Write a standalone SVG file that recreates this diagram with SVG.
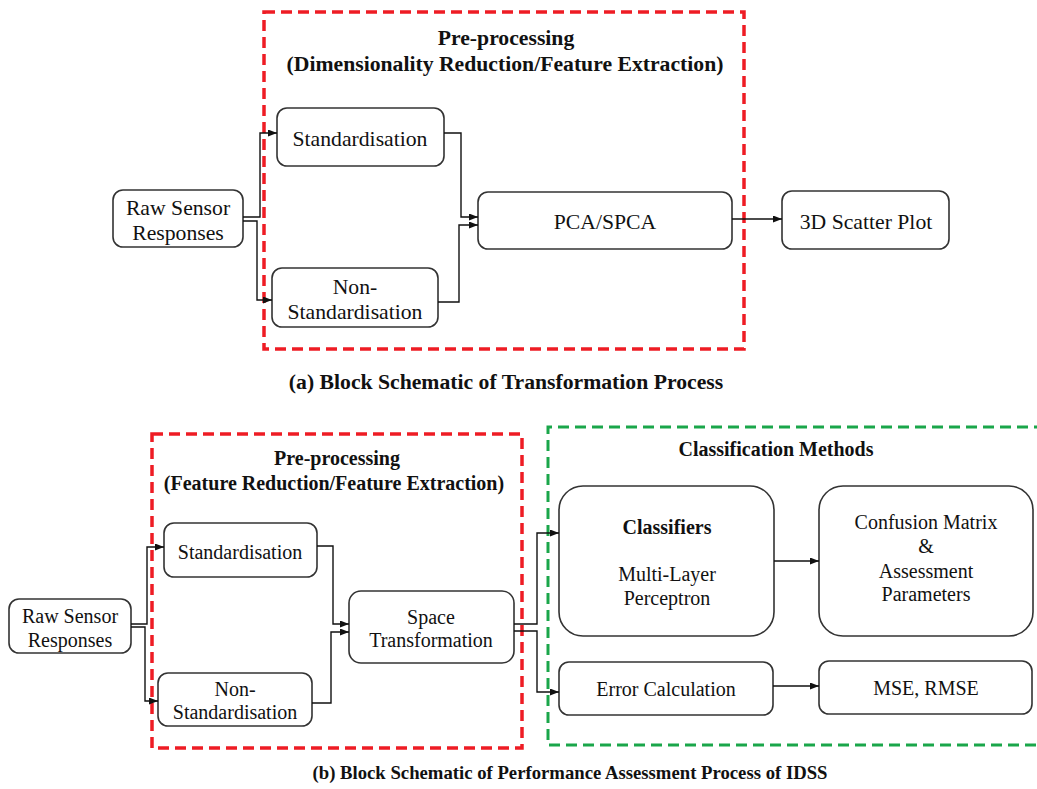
<svg xmlns="http://www.w3.org/2000/svg" width="1037" height="789" viewBox="0 0 1037 789">
<defs>
<marker id="arr" markerUnits="userSpaceOnUse" markerWidth="9" markerHeight="7" refX="9" refY="3.5" orient="auto">
<path d="M0,0 L9,3.5 L0,7 z" fill="#111"/>
</marker>
<style>
.bg{fill:#fff}
.node{fill:#fff;stroke:#333;stroke-width:1.6}
.t{font-family:'Liberation Serif','Times New Roman','DejaVu Serif',serif;fill:#111;text-anchor:middle}
.ta{font-size:21.7px}
.tb{font-size:20px}
.bold{font-weight:bold}
.red{fill:none;stroke:#ee1c24;stroke-width:3.5;stroke-dasharray:11 6}
.green{fill:none;stroke:#1aa64a;stroke-width:3;stroke-dasharray:11 6}
.conn path{fill:none;stroke:#111;stroke-width:1.4;marker-end:url(#arr)}
</style>
</defs>
<rect class="bg" x="0" y="0" width="1037" height="789"/>

<g font-family="'Liberation Serif', 'Times New Roman', 'DejaVu Serif', serif">
<!-- Part (a) -->
<g id="groupA">
<rect class="red" x="264" y="12" width="480" height="337"/>
<text class="t ta bold" x="506" y="45">Pre-processing</text>
<text class="t ta bold" x="505" y="71">(Dimensionality Reduction/Feature Extraction)</text>
</g>
<g id="a_raw"><rect class="node" x="113" y="190" width="130" height="57" rx="10"/>
<text class="t ta" x="178" y="215">Raw Sensor</text><text class="t ta" x="178" y="240">Responses</text></g>
<g id="a_std"><rect class="node" x="277" y="108" width="167" height="58" rx="10"/>
<text class="t ta" x="360" y="146">Standardisation</text></g>
<g id="a_nonstd"><rect class="node" x="272" y="268" width="166" height="59" rx="10"/>
<text class="t ta" x="355" y="294">Non-</text><text class="t ta" x="355" y="319">Standardisation</text></g>
<g id="a_pca"><rect class="node" x="478" y="192" width="254" height="57" rx="10"/>
<text class="t ta" x="605" y="229">PCA/SPCA</text></g>
<g id="a_scatter"><rect class="node" x="782" y="191" width="167" height="58" rx="10"/>
<text class="t ta" x="866" y="229">3D Scatter Plot</text></g>
<text class="t ta bold" x="506" y="389">(a) Block Schematic of Transformation Process</text>

<!-- Part (b) -->
<g id="groupB1">
<rect class="red" x="152" y="434" width="370" height="314"/>
<text class="t tb bold" x="337" y="465">Pre-processing</text>
<text class="t tb bold" x="334" y="490">(Feature Reduction/Feature Extraction)</text>
</g>
<g id="groupB2">
<path class="green" d="M1045,427 H548 V745 H1045"/>
<text class="t tb bold" x="776" y="456">Classification Methods</text>
</g>
<g id="b_raw"><rect class="node" x="9" y="599" width="122" height="54" rx="10"/>
<text class="t tb" x="70" y="623">Raw Sensor</text><text class="t tb" x="70" y="647">Responses</text></g>
<g id="b_std"><rect class="node" x="164" y="523" width="153" height="54" rx="10"/>
<text class="t tb" x="240" y="559">Standardisation</text></g>
<g id="b_nonstd"><rect class="node" x="158" y="673" width="154" height="53" rx="10"/>
<text class="t tb" x="235" y="696">Non-</text><text class="t tb" x="235" y="719">Standardisation</text></g>
<g id="b_space"><rect class="node" x="349" y="591" width="165" height="72" rx="12"/>
<text class="t tb" x="431" y="624">Space</text><text class="t tb" x="431" y="647">Transformation</text></g>
<g id="b_classifiers"><rect class="node" x="559" y="486" width="215" height="150" rx="24"/>
<text class="t tb bold" x="667" y="534">Classifiers</text>
<text class="t tb" x="667" y="581">Multi-Layer</text><text class="t tb" x="667" y="605">Perceptron</text></g>
<g id="b_confusion"><rect class="node" x="819" y="486" width="214" height="150" rx="24"/>
<text class="t tb" x="926" y="529">Confusion Matrix</text><text class="t tb" x="926" y="553">&amp;</text>
<text class="t tb" x="926" y="578">Assessment</text><text class="t tb" x="926" y="601">Parameters</text></g>
<g id="b_error"><rect class="node" x="559" y="662" width="214" height="53" rx="10"/>
<text class="t tb" x="666" y="696">Error Calculation</text></g>
<g id="b_mse"><rect class="node" x="819" y="661" width="213" height="53" rx="10"/>
<text class="t tb" x="926" y="695">MSE, RMSE</text></g>
<text class="t bold" style="font-size:19px" x="570" y="779" textLength="515" lengthAdjust="spacingAndGlyphs">(b) Block Schematic of Performance Assessment Process of IDSS</text>
</g>

<g id="connectors" class="conn">
<path d="M243,217 H260 V133 H277"/>
<path d="M243,221 H257 V300 H272"/>
<path d="M444,133 H461 V217 H478"/>
<path d="M438,302 H459 V225 H478"/>
<path d="M732,219 H782"/>
<path d="M131,624 H147 V547 H164"/>
<path d="M131,627 H145 V701 H158"/>
<path d="M317,546 H333 V624 H349"/>
<path d="M312,703 H331 V632 H349"/>
<path d="M514,624 H537 V533 H559"/>
<path d="M514,631 H537 V692 H559"/>
<path d="M774,561 H819"/>
<path d="M773,686 H819"/>
</g>
</svg>
